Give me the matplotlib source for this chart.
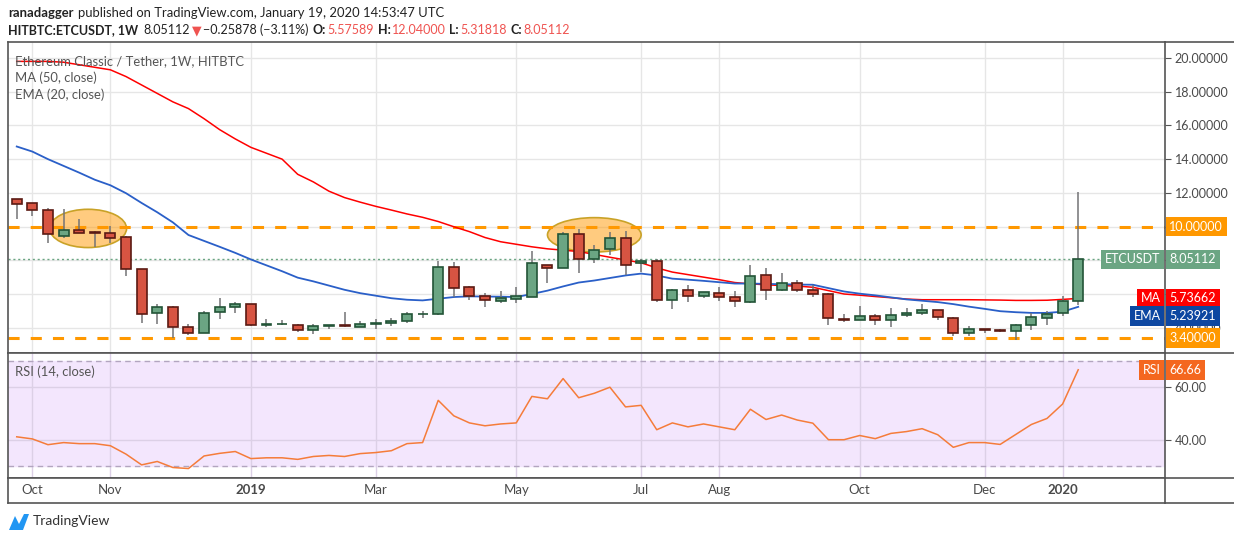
import matplotlib
matplotlib.use("Agg")
import numpy as np
import matplotlib.pyplot as plt
from matplotlib.patches import Ellipse, Polygon
from matplotlib.lines import Line2D
from matplotlib.transforms import blended_transform_factory

plt.rcParams['font.family'] = ['Lato', 'DejaVu Sans']
plt.rcParams['lines.scale_dashes'] = False

# weekly candles, ETC/USDT (HitBTC), 24 Sep 2018 .. 13 Jan 2020
opens = [11.62, 11.38, 10.97, 9.46, 9.77, 9.67, 9.59, 9.36, 7.51, 4.88,
         5.24, 4.05, 3.69, 4.94, 5.24, 5.42, 4.17, 4.21, 4.17, 3.87,
         4.11, 4.17, 4.05, 4.23, 4.27, 4.41, 4.80, 4.82, 7.63, 6.43,
         5.90, 5.60, 5.72, 5.84, 7.75, 7.55, 9.53, 8.08, 8.68, 9.30,
         7.81, 7.94, 5.66, 6.25, 5.88, 6.08, 5.84, 5.52, 7.15, 6.25,
         6.67, 6.25, 6.02, 4.54, 4.46, 4.70, 4.46, 4.74, 4.88, 5.06,
         4.58, 3.69, 3.93, 3.87, 3.81, 4.17, 4.58, 4.88, 5.57589]
highs = [11.65, 11.40, 11.10, 11.05, 10.45, 9.75, 10.03, 9.44, 7.51, 5.42,
         5.30, 4.23, 5.00, 5.74, 5.50, 5.42, 4.54, 4.43, 4.23, 4.23,
         4.17, 4.96, 4.41, 4.49, 4.60, 4.94, 5.02, 7.94, 7.88, 6.49,
         6.08, 6.16, 6.39, 8.54, 7.75, 9.67, 9.85, 8.90, 9.69, 9.73,
         8.10, 8.08, 6.31, 6.51, 6.14, 6.41, 6.16, 7.71, 7.53, 7.23,
         6.81, 6.55, 6.08, 4.84, 5.26, 4.84, 5.14, 5.14, 5.38, 5.06,
         4.66, 4.11, 3.93, 3.93, 4.23, 4.88, 5.00, 5.86, 12.04]
lows = [10.43, 10.65, 9.04, 9.32, 9.59, 8.78, 9.00, 7.07, 4.27, 4.21,
        3.37, 3.57, 3.69, 4.50, 4.88, 4.09, 4.03, 4.15, 3.73, 3.61,
        3.91, 4.03, 4.03, 3.91, 4.11, 4.27, 4.56, 4.74, 5.82, 5.62,
        5.22, 5.46, 5.46, 5.84, 6.67, 7.55, 7.25, 7.84, 8.34, 7.15,
        7.31, 5.52, 5.10, 5.52, 5.76, 5.58, 5.22, 5.46, 5.64, 6.19,
        6.12, 5.82, 4.15, 4.33, 4.46, 4.15, 4.03, 4.62, 4.74, 4.44,
        3.53, 3.49, 3.69, 3.77, 3.29, 3.85, 4.15, 4.68, 5.31818]
closes = [11.32, 10.97, 9.53, 9.77, 9.63, 9.60, 9.30, 7.51, 4.82, 5.24,
          4.05, 3.69, 4.88, 5.24, 5.42, 4.17, 4.23, 4.25, 3.87, 4.11,
          4.17, 4.11, 4.23, 4.29, 4.41, 4.82, 4.84, 7.63, 6.37, 5.88,
          5.66, 5.76, 5.86, 7.81, 7.55, 9.53, 8.08, 8.64, 9.30, 7.75,
          7.94, 5.66, 6.25, 5.88, 6.14, 5.82, 5.58, 7.09, 6.25, 6.67,
          6.25, 6.02, 4.58, 4.48, 4.72, 4.44, 4.76, 4.88, 5.06, 4.64,
          3.69, 3.93, 3.87, 3.81, 4.17, 4.64, 4.84, 5.58, 8.05112]

ma50 = [19.80, 19.80, 19.80, 19.75, 19.60, 19.45, 19.30, 18.90, 18.40, 17.90,
        17.40, 17.00, 16.40, 15.75, 15.20, 14.70, 14.35, 14.00, 13.10, 12.65,
        12.10, 11.72, 11.45, 11.20, 10.98, 10.75, 10.55, 10.30, 9.99, 9.70,
        9.35, 9.10, 8.95, 8.80, 8.68, 8.60, 8.52, 8.35, 8.18, 8.02,
        7.85, 7.55, 7.30, 7.15, 7.00, 6.85, 6.68, 6.60, 6.55, 6.50,
        6.47, 6.40, 6.20, 6.00, 5.93, 5.85, 5.78, 5.70, 5.66, 5.66,
        5.66, 5.66, 5.65, 5.64, 5.62, 5.62, 5.63, 5.68, 5.73662]
ema20 = [14.75, 14.45, 14.00, 13.60, 13.20, 12.78, 12.45, 11.98, 11.40, 10.85,
         10.25, 9.50, 9.15, 8.80, 8.44, 8.05, 7.70, 7.35, 6.97, 6.75,
         6.50, 6.25, 6.05, 5.90, 5.75, 5.66, 5.62, 5.72, 5.82, 5.86,
         5.85, 5.84, 5.82, 6.00, 6.20, 6.45, 6.68, 6.80, 6.95, 7.10,
         7.21, 7.10, 6.91, 6.85, 6.78, 6.70, 6.62, 6.62, 6.60, 6.58,
         6.56, 6.55, 6.35, 6.15, 6.02, 5.92, 5.80, 5.68, 5.60, 5.52,
         5.40, 5.25, 5.12, 4.98, 4.92, 4.88, 4.88, 4.95, 5.23921]
rsi14 = [41.1, 40.3, 38.1, 38.9, 38.5, 38.5, 37.7, 34.5, 30.4, 31.7,
         29.4, 29.0, 33.8, 34.8, 35.5, 32.8, 33.1, 33.1, 32.5, 33.6,
         34.0, 33.6, 34.7, 35.1, 35.8, 38.5, 38.9, 55.0, 49.1, 46.4,
         45.3, 46.0, 46.4, 56.5, 55.6, 63.3, 56.0, 57.7, 60.0, 52.5,
         53.1, 43.8, 46.4, 44.9, 46.0, 44.9, 43.8, 51.6, 47.7, 49.4,
         47.5, 46.3, 40.0, 40.0, 41.6, 40.4, 42.4, 43.1, 44.2, 41.9,
         37.1, 38.9, 38.9, 38.2, 42.0, 45.8, 48.1, 53.6, 66.66]

month_pos = [1, 6, 15, 23, 32, 40, 45, 54, 62, 67]
month_labels = ['Oct', 'Nov', '2019', 'Mar', 'May', 'Jul', 'Aug', 'Oct', 'Dec', '2020']
price_ticks = [4, 6, 8, 10, 12, 14, 16, 18, 20]
rsi_ticks = [40, 60]
levels = [10.0, 3.4]
# highlighted zones: (centre week, centre price, width in weeks, height in price)
zones = [(4.57, 9.89, 4.93, 2.27), (37.0, 9.51, 6.0, 2.04)]

W, H = 1234, 540
def box(x0, y0, x1, y1):
    return [x0 / W, 1 - y1 / H, (x1 - x0) / W, (y1 - y0) / H]

fig = plt.figure(figsize=(W / 100, H / 100), dpi=100)
ax = fig.add_axes(box(8, 42, 1165, 353))
rx = fig.add_axes(box(8, 353, 1165, 478), sharex=ax)
tx = fig.add_axes(box(8, 478, 1165, 503), sharex=ax)

frame = '#555555'
txt = '#4a4a4a'
for a in (ax, rx, tx):
    for s in a.spines.values():
        s.set_color(frame)
        s.set_linewidth(1.2)

x = np.arange(len(closes))
o = np.array(opens); c = np.array(closes)
up = c >= o

# --- main pane
ax.set_xlim(-0.56, 73.56)
ax.set_ylim(2.5, 20.95)
ax.set_xticks(month_pos)
ax.grid(True, color='#E6E6E6', lw=1, zorder=0)
ax.set_axisbelow(True)
ax.yaxis.tick_right()
ax.set_yticks(price_ticks)
# 6, 8 and 10 are hidden under the price tags in the original
ax.set_yticklabels(['' if v in (6, 8, 10) else f'{v:.5f}' for v in price_ticks])
ax.tick_params(axis='y', colors=frame, labelcolor=txt, labelsize=9, length=4, pad=3)
ax.tick_params(axis='x', length=0, labelbottom=False)

for cx, cy, w, h in zones:
    ax.add_patch(Ellipse((cx, cy), w, h, facecolor='#FF9800', alpha=0.5,
                         edgecolor='none', zorder=1.5))
    ax.add_patch(Ellipse((cx, cy), w, h, facecolor='none', edgecolor='#C9A227',
                         lw=1.2, zorder=1.6))

for lv in levels:
    ax.axhline(lv, color='#FF9800', lw=2.2, dashes=(8, 8), zorder=2)
ax.axhline(closes[-1], color='#6BA583', lw=1, dashes=(1.5, 2), zorder=2)

ax.plot(x, ma50, color='#FF0000', lw=1.1, zorder=3)
ax.plot(x, ema20, color='#2A5FC8', lw=1.3, zorder=3)

ax.vlines(x, lows, highs, color='#737375', lw=1.1, zorder=4)
ax.bar(x, np.abs(c - o), bottom=np.minimum(o, c), width=0.64,
       color=np.where(up, '#6BA583', '#D75442'),
       edgecolor=np.where(up, '#225437', '#5B1A13'), linewidth=1.2, zorder=5)

# --- rsi pane
rx.set_ylim(25.4, 73.05)
rx.axhspan(30, 70, color='#F3E6FD', zorder=0)
rx.grid(True, color='#DCD0E6', lw=1, zorder=1)
rx.set_axisbelow(True)
rx.set_yticks(rsi_ticks)
rx.set_yticklabels([f'{v:.2f}' for v in rsi_ticks])
rx.yaxis.tick_right()
rx.tick_params(axis='y', colors=frame, labelcolor=txt, labelsize=9, length=4, pad=3)
rx.tick_params(axis='x', length=0, labelbottom=False)
for lv in (30, 70):
    rx.axhline(lv, color='#B2A5BF', lw=1, dashes=(4, 3), zorder=1)
rx.plot(x, rsi14, color='#F57C3A', lw=1.1, zorder=3)

# --- time axis
tx.set_ylim(0, 1)
tx.set_yticks([])
tx.tick_params(axis='x', length=0, labelbottom=False)
tb = blended_transform_factory(tx.transData, tx.transAxes)
for p, lab in zip(month_pos, month_labels):
    tx.text(p, 0.5, lab, transform=tb, ha='center', va='center', fontsize=9.5,
            color=txt, fontweight='bold' if lab.isdigit() else 'normal')

# frame lines running into the right column
for yy in (42, 353, 478, 503):
    fig.add_artist(Line2D([1165 / W, 1], [1 - yy / H] * 2, color=frame, lw=1.2))

# --- price tags
def tag(a, y, text, color, left=False, dy=0):
    tr = blended_transform_factory(a.transAxes, a.transData)
    a.annotate(text, xy=(1.0, y), xycoords=tr, xytext=(-3.2 if left else 3.2, dy),
               textcoords='offset points', ha='right' if left else 'left', va='center',
               color='white', fontsize=9, annotation_clip=False, zorder=10,
               bbox=dict(boxstyle='square,pad=0.3', fc=color, ec='none'))

tag(ax, levels[0], f'{levels[0]:.5f}', '#FF9800')
tag(ax, levels[1], f'{levels[1]:.5f}', '#FF9800')
tag(ax, closes[-1], f'{closes[-1]:.5f}', '#6BA583')
tag(ax, closes[-1], 'ETCUSDT', '#6BA583', left=True)
tag(ax, ma50[-1], f'{ma50[-1]:.5f}', '#FF0000')
tag(ax, ma50[-1], 'MA', '#FF0000', left=True)
# EMA tag is pushed down below the MA tag, like TradingView does
tag(ax, ema20[-1], f'{ema20[-1]:.5f}', '#0D47A1', dy=-6.5)
tag(ax, ema20[-1], 'EMA', '#0D47A1', left=True, dy=-6.5)
tag(rx, rsi14[-1], f'{rsi14[-1]:.2f}', '#F4671F')
tag(rx, rsi14[-1], 'RSI', '#F4671F', left=True)

# --- legends inside panes
def ftext(px, py, s, **kw):
    return fig.text(px / W, 1 - py / H, s, va='center', **kw)

ftext(15, 61, 'Ethereum Classic / Tether, 1W, HITBTC', fontsize=9.4, color='#555555')
ftext(15, 78, 'MA (50, close)', fontsize=9.4, color='#555555')
ftext(15, 95, 'EMA (20, close)', fontsize=9.4, color='#555555')
ftext(15, 372, 'RSI (14, close)', fontsize=9.4, color='#555555')

# --- header, pieces laid out one after another
dark = '#222222'
red = '#EF5350'
renderer = fig.canvas.get_renderer()

def chain(py, parts, size):
    px = 8
    for s, color, weight, gap in parts:
        t = ftext(px, py, s, fontsize=size, color=color, fontweight=weight)
        px += t.get_window_extent(renderer=renderer).width + gap

chain(13, [('ranadagger', dark, 'bold', 4),
           ('published on TradingView.com, January 19, 2020 14:53:47 UTC', dark, 'normal', 0)], 9.4)
chain(30, [('HITBTC:ETCUSDT, 1W', dark, 'bold', 5),
           ('8.05112', dark, 'normal', 2),
           ('\u25bc', red, 'normal', 2),
           ('\u22120.25878 (\u22123.11%)', dark, 'normal', 4),
           ('O:', dark, 'bold', 1), ('5.57589', red, 'normal', 4),
           ('H:', dark, 'bold', 1), ('12.04000', red, 'normal', 4),
           ('L:', dark, 'bold', 1), ('5.31818', red, 'normal', 4),
           ('C:', dark, 'bold', 1), ('8.05112', red, 'normal', 0)], 9.0)

# --- footer logo
logo = [(9, 530), (15, 516), (19, 524), (24, 514), (29, 514), (23, 530)]
fig.add_artist(Polygon([(px / W, 1 - py / H) for px, py in logo], closed=True,
                       facecolor='#2196F3', edgecolor='none'))
ftext(33, 521, 'TradingView', fontsize=10, color='#333333')

fig.savefig('out.png', dpi=100)
